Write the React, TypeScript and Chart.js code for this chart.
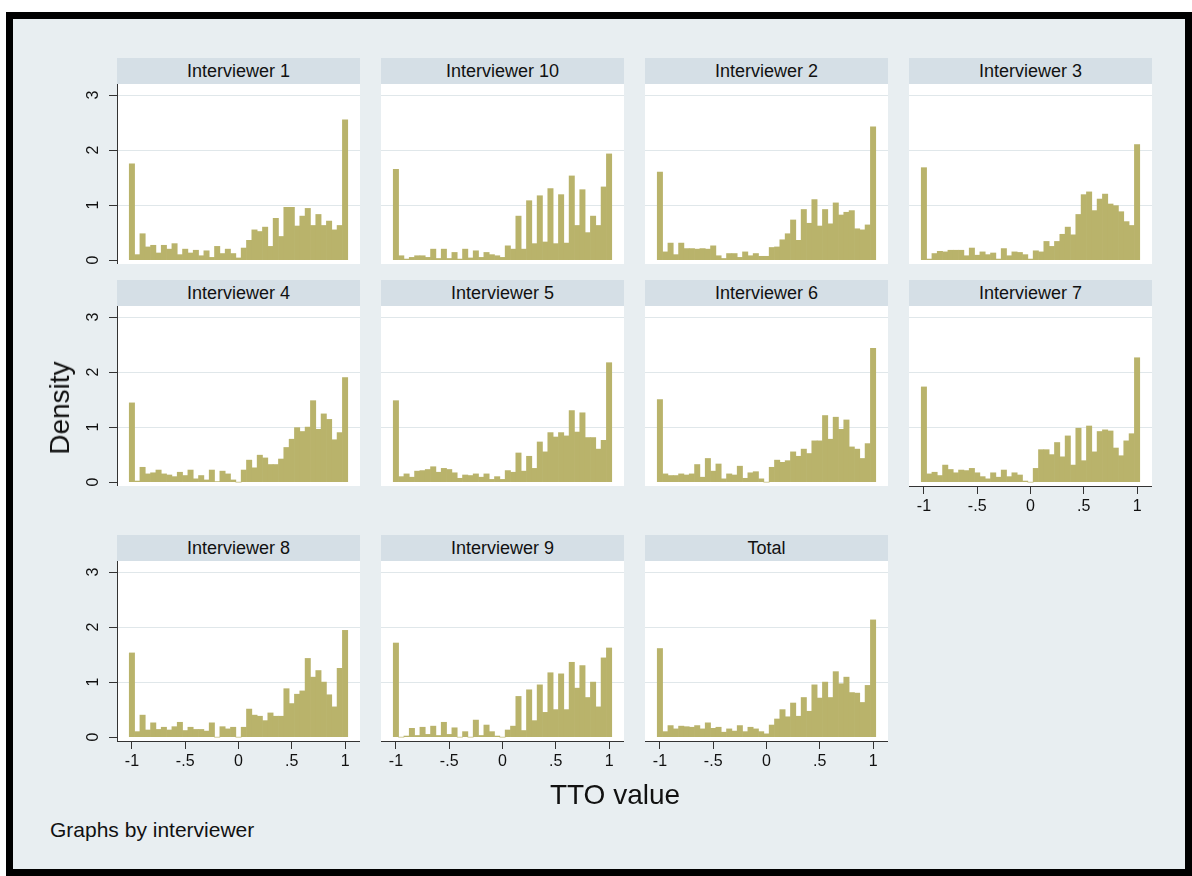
import React, { useEffect, useRef } from "react";
import { Chart, registerables } from "chart.js";

Chart.register(...registerables);

// ---------- data ----------
const BIN_CENTERS = [
  -1, -0.95, -0.9, -0.85, -0.8, -0.75, -0.7, -0.65, -0.6, -0.55,
  -0.5, -0.45, -0.4, -0.35, -0.3, -0.25, -0.2, -0.15, -0.1, -0.05,
  0, 0.05, 0.1, 0.15, 0.2, 0.25, 0.3, 0.35, 0.4, 0.45,
  0.5, 0.55, 0.6, 0.65, 0.7, 0.75, 0.8, 0.85, 0.9, 0.95,
  1,
];

const X_TICKS = [-1, -0.5, 0, 0.5, 1];
const X_TICK_LABELS = ["-1", "-.5", "0", ".5", "1"];
const Y_TICKS = [0, 1, 2, 3];
const Y_TICK_LABELS = ["0", "1", "2", "3"];

const INTERVIEWER_1 = [1.75, 0.1, 0.48, 0.24, 0.27, 0.13, 0.27, 0.2, 0.3, 0.1, 0.2, 0.13, 0.18, 0.08, 0.17, 0.05, 0.25, 0.12, 0.2, 0.12, 0.04, 0.22, 0.36, 0.55, 0.52, 0.6, 0.25, 0.76, 0.43, 0.96, 0.96, 0.62, 0.8, 0.94, 0.63, 0.83, 0.63, 0.71, 0.55, 0.63, 2.55];
const INTERVIEWER_10 = [1.65, 0.08, 0.02, 0.05, 0.08, 0.08, 0.05, 0.2, 0.03, 0.2, 0.03, 0.14, 0.02, 0.2, 0.04, 0.17, 0.05, 0.14, 0.1, 0.08, 0.05, 0.26, 0.2, 0.8, 0.2, 1.08, 0.3, 1.17, 0.33, 1.3, 0.3, 1.19, 0.31, 1.53, 0.63, 1.28, 0.5, 0.8, 0.63, 1.33, 1.93];
const INTERVIEWER_2 = [1.6, 0.15, 0.31, 0.1, 0.31, 0.21, 0.21, 0.2, 0.21, 0.2, 0.26, 0.08, 0.03, 0.12, 0.12, 0.05, 0.15, 0.08, 0.12, 0.07, 0.07, 0.23, 0.24, 0.37, 0.48, 0.73, 0.36, 0.92, 0.67, 1.1, 0.62, 0.92, 0.66, 1.04, 0.82, 0.87, 0.9, 0.57, 0.55, 0.64, 2.42];
const INTERVIEWER_3 = [1.68, 0.02, 0.12, 0.16, 0.15, 0.18, 0.18, 0.18, 0.08, 0.22, 0.09, 0.15, 0.1, 0.13, 0.02, 0.21, 0.08, 0.15, 0.14, 0.1, 0.02, 0.17, 0.15, 0.34, 0.25, 0.34, 0.47, 0.6, 0.46, 0.83, 1.19, 1.24, 0.9, 1.11, 1.2, 1.02, 0.99, 0.88, 0.7, 0.63, 2.1];
const INTERVIEWER_4 = [1.44, 0.02, 0.27, 0.15, 0.17, 0.22, 0.15, 0.13, 0.1, 0.18, 0.12, 0.22, 0.06, 0.12, 0.04, 0.22, 0.01, 0.2, 0.15, 0.04, 0, 0.22, 0.4, 0.26, 0.49, 0.44, 0.32, 0.32, 0.42, 0.63, 0.78, 0.99, 0.92, 1.0, 1.48, 0.96, 1.24, 1.14, 0.77, 0.9, 1.9];
const INTERVIEWER_5 = [1.48, 0.1, 0.15, 0.09, 0.2, 0.21, 0.23, 0.28, 0.18, 0.25, 0.23, 0.17, 0.07, 0.13, 0.12, 0.15, 0.09, 0.15, 0.05, 0.1, 0.05, 0.21, 0.18, 0.53, 0.2, 0.47, 0.25, 0.73, 0.55, 0.9, 0.82, 0.9, 0.84, 1.3, 0.91, 1.26, 0.81, 0.81, 0.6, 0.76, 2.17];
const INTERVIEWER_6 = [1.5, 0.15, 0.12, 0.12, 0.15, 0.13, 0.15, 0.32, 0.09, 0.43, 0.2, 0.33, 0.06, 0.15, 0.13, 0.29, 0.07, 0.17, 0.19, 0.06, 0, 0.27, 0.4, 0.36, 0.39, 0.55, 0.47, 0.6, 0.52, 0.75, 0.75, 1.21, 0.78, 1.18, 0.96, 1.13, 0.64, 0.6, 0.43, 0.7, 2.43];
const INTERVIEWER_7 = [1.73, 0.15, 0.18, 0.12, 0.31, 0.23, 0.17, 0.22, 0.21, 0.25, 0.17, 0.1, 0.06, 0.17, 0.09, 0.22, 0.1, 0.17, 0.13, 0.02, 0, 0.25, 0.59, 0.59, 0.5, 0.72, 0.46, 0.84, 0.31, 0.98, 0.39, 1.02, 0.55, 0.92, 0.95, 0.93, 0.62, 0.48, 0.75, 0.88, 2.26];
const INTERVIEWER_8 = [1.53, 0.1, 0.4, 0.13, 0.26, 0.14, 0.18, 0.13, 0.19, 0.27, 0.12, 0.18, 0.14, 0.14, 0.11, 0.26, 0, 0.19, 0.15, 0.18, 0, 0.18, 0.51, 0.4, 0.38, 0.3, 0.44, 0.38, 0.38, 0.88, 0.61, 0.78, 0.84, 1.43, 1.09, 1.21, 1.0, 0.77, 0.55, 1.25, 1.94];
const INTERVIEWER_9 = [1.71, 0, 0.02, 0.16, 0.03, 0.18, 0.05, 0.2, 0.03, 0.27, 0.05, 0.17, 0, 0.1, 0, 0.31, 0.03, 0.22, 0.1, 0.02, 0, 0.13, 0.2, 0.74, 0.12, 0.86, 0.3, 0.95, 0.45, 1.17, 0.5, 1.15, 0.5, 1.36, 0.89, 1.3, 0.72, 1.0, 0.55, 1.44, 1.62];
const TOTAL = [1.61, 0.1, 0.21, 0.15, 0.2, 0.19, 0.18, 0.21, 0.15, 0.26, 0.16, 0.18, 0.09, 0.15, 0.11, 0.21, 0.1, 0.18, 0.15, 0.1, 0.06, 0.22, 0.33, 0.5, 0.37, 0.62, 0.38, 0.72, 0.47, 0.95, 0.71, 1.0, 0.72, 1.19, 0.97, 1.09, 0.81, 0.8, 0.63, 0.94, 2.13];

const PANEL_TITLES = [
  "Interviewer 1", "Interviewer 10", "Interviewer 2", "Interviewer 3",
  "Interviewer 4", "Interviewer 5", "Interviewer 6", "Interviewer 7",
  "Interviewer 8", "Interviewer 9", "Total",
];
const PANEL_VALUES = [
  INTERVIEWER_1, INTERVIEWER_10, INTERVIEWER_2, INTERVIEWER_3,
  INTERVIEWER_4, INTERVIEWER_5, INTERVIEWER_6, INTERVIEWER_7,
  INTERVIEWER_8, INTERVIEWER_9, TOTAL,
];
const X_TITLE = "TTO value";
const Y_TITLE = "Density";
const NOTE = "Graphs by interviewer";

// ---------- layout / style ----------
const FONT = '"Liberation Sans", Arial, Helvetica, sans-serif';
const BAR_COLOR = "#b9b36b";
const FRAME_BG = "#e8eef1";
const STRIP_BG = "#d5dfe6";
const GRID_COLOR = "#e0e7ea";
const AXIS_COLOR = "#333333";

const COL_LEFT = [117, 381, 645, 909];
const ROW_TOP = [84, 306, 561];
const PLOT_W = 243;
const PLOT_H = 180;
const HEADER_H = 26;
const Y_AXIS_W = 60;
const X_AXIS_H = 40;
const X_MIN = -1.14;
const X_MAX = 1.14;
const Y_MIN = -0.07;
const Y_MAX = 3.2;

const whitePlot = {
  id: "whitePlot",
  beforeDraw(chart: any) {
    const { ctx, chartArea: a } = chart;
    ctx.save();
    ctx.fillStyle = "#ffffff";
    ctx.fillRect(a.left, a.top, a.right - a.left, a.bottom - a.top);
    ctx.restore();
  },
};

type PanelProps = {
  title: string;
  values: number[];
  left: number;
  top: number;
  showY: boolean;
  showX: boolean;
};

function Panel({ title, values, left, top, showY, showX }: PanelProps) {
  const ref = useRef<HTMLCanvasElement | null>(null);
  const cw = PLOT_W + (showY ? Y_AXIS_W : 0);
  const ch = PLOT_H + (showX ? X_AXIS_H : 0);

  useEffect(() => {
    if (!ref.current) return;
    const chart = new Chart(ref.current, {
      type: "bar",
      data: {
        datasets: [
          {
            data: BIN_CENTERS.map((x, i) => ({ x, y: values[i] })),
            backgroundColor: BAR_COLOR,
            borderWidth: 0,
            barPercentage: 1,
            categoryPercentage: 1,
          },
        ],
      },
      options: {
        animation: false,
        responsive: false,
        maintainAspectRatio: false,
        devicePixelRatio: 1,
        layout: { padding: 0 },
        plugins: {
          legend: { display: false },
          tooltip: { enabled: false },
          title: { display: false },
        },
        scales: {
          x: {
            type: "linear",
            min: X_MIN,
            max: X_MAX,
            offset: false,
            display: showX,
            afterBuildTicks: (s: any) => {
              s.ticks = X_TICKS.map((v) => ({ value: v }));
            },
            afterFit: (s: any) => {
              s.height = showX ? X_AXIS_H : 0;
              s.paddingLeft = 0;
              s.paddingRight = 0;
            },
            grid: {
              offset: false,
              drawOnChartArea: false,
              drawTicks: true,
              tickLength: 8,
              tickColor: AXIS_COLOR,
              tickWidth: 1,
            },
            border: { display: true, color: AXIS_COLOR, width: 1 },
            ticks: {
              autoSkip: false,
              maxRotation: 0,
              minRotation: 0,
              padding: 3,
              color: "#111",
              font: { family: FONT, size: 16 },
              callback: (_v: any, i: number) => X_TICK_LABELS[i],
            },
          },
          y: {
            type: "linear",
            min: Y_MIN,
            max: Y_MAX,
            afterBuildTicks: (s: any) => {
              s.ticks = Y_TICKS.map((v) => ({ value: v }));
            },
            afterFit: (s: any) => {
              s.width = showY ? Y_AXIS_W : 0;
              s.paddingTop = 0;
              s.paddingBottom = 0;
            },
            grid: {
              color: (c: any) =>
                c.tick && c.tick.value === 0 ? "rgba(0,0,0,0)" : GRID_COLOR,
              lineWidth: 1,
              drawTicks: showY,
              tickLength: 8,
              tickColor: AXIS_COLOR,
              tickWidth: 1,
            },
            border: { display: showY, color: AXIS_COLOR, width: 1 },
            ticks: {
              display: showY,
              minRotation: 90,
              maxRotation: 90,
              crossAlign: "center",
              padding: 11,
              color: "#111",
              font: { family: FONT, size: 16 },
              callback: (_v: any, i: number) => Y_TICK_LABELS[i],
            },
          },
        },
      } as any,
      plugins: [whitePlot],
    });
    return () => chart.destroy();
  }, [values, showX, showY]);

  return (
    <>
      <div
        style={{
          position: "absolute",
          left,
          top: top - HEADER_H,
          width: PLOT_W,
          height: HEADER_H,
          background: STRIP_BG,
          color: "#111",
          fontFamily: FONT,
          fontSize: 18,
          lineHeight: `${HEADER_H}px`,
          textAlign: "center",
          whiteSpace: "nowrap",
        }}
      >
        {title}
      </div>
      <canvas
        ref={ref}
        width={cw}
        height={ch}
        style={{
          position: "absolute",
          left: left - (showY ? Y_AXIS_W : 0),
          top,
          width: cw,
          height: ch,
        }}
      />
    </>
  );
}

export default function App() {
  const panels = PANEL_TITLES.map((title, i) => {
    const row = Math.floor(i / 4);
    const col = i % 4;
    return {
      title,
      values: PANEL_VALUES[i],
      left: COL_LEFT[col],
      top: ROW_TOP[row],
      showY: col === 0,
      showX: row === 2 || i === 7,
    };
  });

  return (
    <div
      style={{
        position: "absolute",
        left: 0,
        top: 0,
        width: 1192,
        height: 876,
        background: "#ffffff",
        overflow: "hidden",
      }}
    >
      <div
        style={{
          position: "absolute",
          left: 6,
          top: 12,
          width: 1186,
          height: 864,
          boxSizing: "border-box",
          border: "7px solid #000",
          background: FRAME_BG,
        }}
      />
      {panels.map((p) => (
        <Panel key={p.title} {...p} />
      ))}
      <div
        style={{
          position: "absolute",
          left: 60,
          top: 408,
          transform: "translate(-50%, -50%) rotate(-90deg)",
          fontFamily: FONT,
          fontSize: 28,
          color: "#111",
          whiteSpace: "nowrap",
        }}
      >
        {Y_TITLE}
      </div>
      <div
        style={{
          position: "absolute",
          left: 615,
          top: 795,
          transform: "translate(-50%, -50%)",
          fontFamily: FONT,
          fontSize: 28,
          color: "#111",
          whiteSpace: "nowrap",
        }}
      >
        {X_TITLE}
      </div>
      <div
        style={{
          position: "absolute",
          left: 50,
          top: 830,
          transform: "translate(0, -50%)",
          fontFamily: FONT,
          fontSize: 21,
          color: "#111",
          whiteSpace: "nowrap",
        }}
      >
        {NOTE}
      </div>
    </div>
  );
}
